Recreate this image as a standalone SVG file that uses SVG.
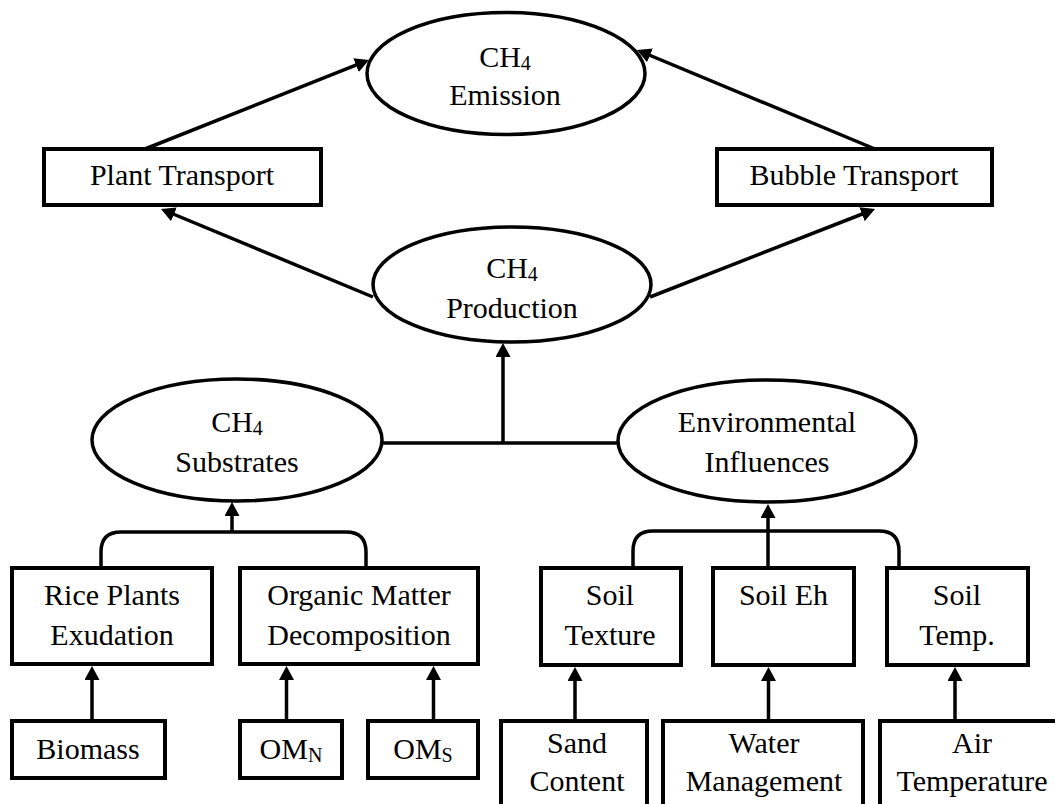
<svg xmlns="http://www.w3.org/2000/svg" width="1055" height="804" viewBox="0 0 1055 804">
<style>
text{font-family:"Liberation Serif","Times New Roman",serif;font-size:30px;fill:#000;text-anchor:middle}
.sub{font-size:20px}
.box{fill:#fff;stroke:#000;stroke-width:4}
.ell{fill:#fff;stroke:#000;stroke-width:3.5}
.con{fill:none;stroke:#000;stroke-width:3.5}
</style>
<defs>
<marker id="ah" viewBox="0 0 14 15" refX="10" refY="7.5" markerWidth="14" markerHeight="15" markerUnits="userSpaceOnUse" orient="auto">
<path d="M0,0 L14,7.5 L0,15 z" fill="#000"/>
</marker>
</defs>
<g id="connectors">
<line class="con" x1="145" y1="149" x2="365.3" y2="61.4" marker-end="url(#ah)"/>
<line class="con" x1="875" y1="149" x2="640.7" y2="51.5" marker-end="url(#ah)"/>
<line class="con" x1="373" y1="297" x2="164.7" y2="210.5" marker-end="url(#ah)"/>
<line class="con" x1="650" y1="297" x2="871.3" y2="210.5" marker-end="url(#ah)"/>
<line class="con" x1="383" y1="443" x2="617" y2="443"/>
<line class="con" x1="503" y1="443" x2="503" y2="347" marker-end="url(#ah)"/>
<path class="con" d="M101,566 V552 Q101,532 121,532 H346 Q366,532 366,552 V566"/>
<line class="con" x1="232" y1="532" x2="232" y2="506" marker-end="url(#ah)"/>
<path class="con" d="M633,566 V551 Q633,531 653,531 H879 Q899,531 899,551 V566"/>
<line class="con" x1="768" y1="566" x2="768" y2="508" marker-end="url(#ah)"/>
<line class="con" x1="92" y1="719" x2="92" y2="670" marker-end="url(#ah)"/>
<line class="con" x1="286.5" y1="719" x2="286.5" y2="670" marker-end="url(#ah)"/>
<line class="con" x1="433.5" y1="719" x2="433.5" y2="670" marker-end="url(#ah)"/>
<line class="con" x1="575" y1="719" x2="575" y2="671" marker-end="url(#ah)"/>
<line class="con" x1="768.5" y1="719" x2="768.5" y2="671" marker-end="url(#ah)"/>
<line class="con" x1="955" y1="719" x2="955" y2="671" marker-end="url(#ah)"/>
</g>
<g id="emission">
<ellipse class="ell" cx="506" cy="73.5" rx="139" ry="61"/>
<text x="505" y="67">CH<tspan class="sub" dy="3">4</tspan></text>
<text x="505" y="105">Emission</text>
</g>
<g id="plant-transport">
<rect class="box" x="44" y="149" width="277" height="56"/>
<text x="182" y="185">Plant Transport</text>
</g>
<g id="bubble-transport">
<rect class="box" x="717" y="149" width="275" height="56"/>
<text x="854" y="185">Bubble Transport</text>
</g>
<g id="production">
<ellipse class="ell" cx="512" cy="284.5" rx="139" ry="57.5"/>
<text x="512" y="278">CH<tspan class="sub" dy="3">4</tspan></text>
<text x="512" y="318">Production</text>
</g>
<g id="substrates">
<ellipse class="ell" cx="237" cy="440" rx="145" ry="61"/>
<text x="237" y="432">CH<tspan class="sub" dy="3">4</tspan></text>
<text x="237" y="472">Substrates</text>
</g>
<g id="environmental">
<ellipse class="ell" cx="767" cy="441" rx="149" ry="61"/>
<text x="767" y="432">Environmental</text>
<text x="767" y="472">Influences</text>
</g>
<g id="rice-plants">
<rect class="box" x="12" y="568" width="200" height="96"/>
<text x="112" y="605">Rice Plants</text>
<text x="112" y="645">Exudation</text>
</g>
<g id="organic-matter">
<rect class="box" x="240" y="568" width="238" height="96"/>
<text x="359" y="605">Organic Matter</text>
<text x="359" y="645">Decomposition</text>
</g>
<g id="soil-texture">
<rect class="box" x="541" y="568" width="140" height="97"/>
<text x="610" y="605">Soil</text>
<text x="610" y="645">Texture</text>
</g>
<g id="soil-eh">
<rect class="box" x="713" y="568" width="141" height="97"/>
<text x="783.5" y="605">Soil Eh</text>
</g>
<g id="soil-temp">
<rect class="box" x="887" y="568" width="141" height="97"/>
<text x="957" y="605">Soil</text>
<text x="957" y="645">Temp.</text>
</g>
<g id="biomass">
<rect class="box" x="12" y="721" width="153" height="57"/>
<text x="88" y="759">Biomass</text>
</g>
<g id="om-n">
<rect class="box" x="240" y="721" width="102" height="57"/>
<text x="291" y="759">OM<tspan class="sub" dy="3">N</tspan></text>
</g>
<g id="om-s">
<rect class="box" x="368" y="721" width="110" height="57"/>
<text x="423" y="759">OM<tspan class="sub" dy="3">S</tspan></text>
</g>
<g id="sand-content">
<rect class="box" x="501" y="721" width="146" height="120"/>
<text x="577" y="753">Sand</text>
<text x="577" y="791">Content</text>
</g>
<g id="water-management">
<rect class="box" x="663" y="721" width="200" height="120"/>
<text x="764" y="753">Water</text>
<text x="764" y="791">Management</text>
</g>
<g id="air-temperature">
<rect class="box" x="880" y="721" width="200" height="120"/>
<text x="972" y="753">Air</text>
<text x="972" y="791">Temperature</text>
</g>
</svg>
